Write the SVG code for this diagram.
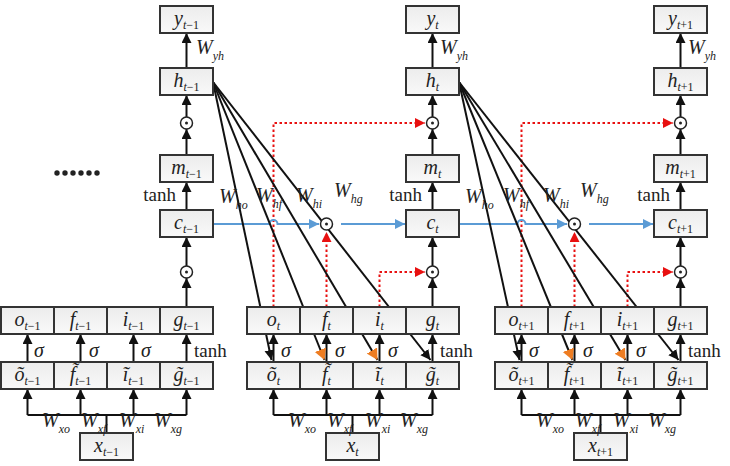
<svg xmlns="http://www.w3.org/2000/svg" width="730" height="466" viewBox="0 0 730 466">
<defs>
<linearGradient id="g" x1="0" y1="0" x2="0" y2="1"><stop offset="0" stop-color="#ececec"/><stop offset="1" stop-color="#f9f9f9"/></linearGradient>
<marker id="ah" markerUnits="userSpaceOnUse" markerWidth="11" markerHeight="11" refX="10" refY="5" orient="auto"><path d="M0,0 L10,5 L0,10 z" fill="#111"/></marker>
<marker id="ao" markerUnits="userSpaceOnUse" markerWidth="13" markerHeight="13" refX="11" refY="6" orient="auto"><path d="M0,0 L11,6 L0,12 z" fill="#ee7d22"/></marker>
<marker id="arr" markerUnits="userSpaceOnUse" markerWidth="11" markerHeight="11" refX="10" refY="5" orient="auto"><path d="M0,0 L10,5 L0,10 z" fill="#e81010"/></marker>
<marker id="abl" markerUnits="userSpaceOnUse" markerWidth="11" markerHeight="11" refX="10" refY="5" orient="auto"><path d="M0,0 L10,5 L0,10 z" fill="#5b9bd5"/></marker>
</defs>
<style>
.box{fill:url(#g);stroke:#333;stroke-width:2}
.m{font-family:"Liberation Serif",serif;font-style:italic;font-size:20px;fill:#222}
.s{font-size:12px}
.n{font-style:normal}
.up{font-family:"Liberation Serif",serif;font-size:19px;fill:#222}
.ln{stroke:#111;stroke-width:2;fill:none}
.a{marker-end:url(#ah)}
.ao{marker-end:url(#ao)}
.red{stroke:#e81010;stroke-width:2;stroke-dasharray:2.5 2.5;fill:none;marker-end:url(#arr)}
.blue{stroke:#5b9bd5;stroke-width:2;fill:none;marker-end:url(#abl)}
.od{fill:#fff;stroke:#222;stroke-width:1.5}
.dot{fill:#222}
</style>
<rect width="730" height="466" fill="#fff"/>

<g id="connectors">
<path class="ln a" d="M186.5,68 V33"/>
<path class="ln a" d="M186.5,117 V95"/>
<path class="ln a" d="M186.5,155 V129"/>
<path class="ln a" d="M186.5,210 V182"/>
<path class="ln a" d="M186.5,266 V237"/>
<path class="ln a" d="M186.5,307 V278"/>
<path class="ln a" d="M27.5,362 V334"/><path class="ln a" d="M80.5,362 V334"/><path class="ln a" d="M133.5,362 V334"/><path class="ln a" d="M186.5,362 V334"/>
<path class="ln a" d="M27.5,415 V389"/><path class="ln a" d="M80.5,415 V389"/><path class="ln a" d="M133.5,415 V389"/><path class="ln a" d="M186.5,415 V389"/>
<path class="ln" d="M27.5,415 H186.5 M106.5,433 V415"/>
<path class="ln a" d="M432.5,68 V33"/>
<path class="ln a" d="M432.5,117 V95"/>
<path class="ln a" d="M432.5,155 V129"/>
<path class="ln a" d="M432.5,210 V182"/>
<path class="ln a" d="M432.5,266 V237"/>
<path class="ln a" d="M432.5,307 V278"/>
<path class="ln a" d="M273.5,362 V334"/><path class="ln a" d="M326.5,362 V334"/><path class="ln a" d="M379.5,362 V334"/><path class="ln a" d="M432.5,362 V334"/>
<path class="ln a" d="M273.5,415 V389"/><path class="ln a" d="M326.5,415 V389"/><path class="ln a" d="M379.5,415 V389"/><path class="ln a" d="M432.5,415 V389"/>
<path class="ln" d="M273.5,415 H432.5 M352.5,433 V415"/>
<path class="ln a" d="M680.5,68 V33"/>
<path class="ln a" d="M680.5,117 V95"/>
<path class="ln a" d="M680.5,155 V129"/>
<path class="ln a" d="M680.5,210 V182"/>
<path class="ln a" d="M680.5,266 V237"/>
<path class="ln a" d="M680.5,307 V278"/>
<path class="ln a" d="M521.5,362 V334"/><path class="ln a" d="M574.5,362 V334"/><path class="ln a" d="M627.5,362 V334"/><path class="ln a" d="M680.5,362 V334"/>
<path class="ln a" d="M521.5,415 V389"/><path class="ln a" d="M574.5,415 V389"/><path class="ln a" d="M627.5,415 V389"/><path class="ln a" d="M680.5,415 V389"/>
<path class="ln" d="M521.5,415 H680.5 M600.5,433 V415"/>
<path class="red" d="M273.5,307 V123 H425"/>
<path class="red" d="M326.5,307 V232"/>
<path class="red" d="M379.5,307 V272 H425"/>
<path class="red" d="M521.5,307 V123 H673"/>
<path class="red" d="M574.5,307 V232"/>
<path class="red" d="M627.5,307 V272 H673"/>
<path class="blue" d="M213,224 H269.5 a4,4 0 0 1 8,0 H319"/>
<path class="blue" d="M341,224 H405"/>
<path class="blue" d="M459,224 H517.5 a4,4 0 0 1 8,0 H567"/>
<path class="blue" d="M589,224 H653"/>
<path class="ln a" d="M213,82 L271.5,360"/>
<path class="ln ao" d="M213,82 L324.5,360"/>
<path class="ln ao" d="M213,82 L377.5,360"/>
<path class="ln a" d="M213,82 L430.5,360"/>
<path class="ln a" d="M459,82 L519.5,360"/>
<path class="ln ao" d="M459,82 L572.5,360"/>
<path class="ln ao" d="M459,82 L625.5,360"/>
<path class="ln a" d="M459,82 L678.5,360"/>
</g>

<g id="y_tm1"><rect class="box" x="160" y="6" width="53" height="27"/><text class="m" x="186.5" y="25" text-anchor="middle">y<tspan class="s" dy="4">t</tspan><tspan class="s n">−1</tspan></text></g>
<g id="h_tm1"><rect class="box" x="160" y="68" width="53" height="27"/><text class="m" x="186.5" y="87" text-anchor="middle">h<tspan class="s" dy="4">t</tspan><tspan class="s n">−1</tspan></text></g>
<g id="odh_tm1"><circle class="od" cx="186.5" cy="123" r="6"/><circle class="dot" cx="186.5" cy="123" r="1.5"/></g>
<g id="m_tm1"><rect class="box" x="160" y="155" width="53" height="27"/><text class="m" x="186.5" y="174" text-anchor="middle">m<tspan class="s" dy="4">t</tspan><tspan class="s n">−1</tspan></text></g>
<g id="c_tm1"><rect class="box" x="160" y="210" width="53" height="27"/><text class="m" x="186.5" y="229" text-anchor="middle">c<tspan class="s" dy="4">t</tspan><tspan class="s n">−1</tspan></text></g>
<g id="odc_tm1"><circle class="od" cx="186.5" cy="272" r="6"/><circle class="dot" cx="186.5" cy="272" r="1.5"/></g>
<g id="o_tm1"><rect class="box" x="1" y="307" width="53" height="27"/><text class="m" x="27.5" y="326" text-anchor="middle">o<tspan class="s" dy="4">t</tspan><tspan class="s n">−1</tspan></text></g>
<g id="f_tm1"><rect class="box" x="54" y="307" width="53" height="27"/><text class="m" x="80.5" y="326" text-anchor="middle">f<tspan class="s" dy="4">t</tspan><tspan class="s n">−1</tspan></text></g>
<g id="i_tm1"><rect class="box" x="107" y="307" width="53" height="27"/><text class="m" x="133.5" y="326" text-anchor="middle">i<tspan class="s" dy="4">t</tspan><tspan class="s n">−1</tspan></text></g>
<g id="g_tm1"><rect class="box" x="160" y="307" width="53" height="27"/><text class="m" x="186.5" y="326" text-anchor="middle">g<tspan class="s" dy="4">t</tspan><tspan class="s n">−1</tspan></text></g>
<g id="ot_tm1"><rect class="box" x="1" y="362" width="53" height="27"/><text class="m" x="27.5" y="381" text-anchor="middle">õ<tspan class="s" dy="4">t</tspan><tspan class="s n">−1</tspan></text></g>
<g id="ft_tm1"><rect class="box" x="54" y="362" width="53" height="27"/><text class="m" x="80.5" y="381" text-anchor="middle">f̃<tspan class="s" dy="4">t</tspan><tspan class="s n">−1</tspan></text></g>
<g id="it_tm1"><rect class="box" x="107" y="362" width="53" height="27"/><text class="m" x="133.5" y="381" text-anchor="middle">ĩ<tspan class="s" dy="4">t</tspan><tspan class="s n">−1</tspan></text></g>
<g id="gt_tm1"><rect class="box" x="160" y="362" width="53" height="27"/><text class="m" x="186.5" y="381" text-anchor="middle">g̃<tspan class="s" dy="4">t</tspan><tspan class="s n">−1</tspan></text></g>
<g id="x_tm1"><rect class="box" x="80" y="433" width="53" height="27"/><text class="m" x="106.5" y="452" text-anchor="middle">x<tspan class="s" dy="4">t</tspan><tspan class="s n">−1</tspan></text></g>

<g id="y_t"><rect class="box" x="406" y="6" width="53" height="27"/><text class="m" x="432.5" y="25" text-anchor="middle">y<tspan class="s" dy="4">t</tspan></text></g>
<g id="h_t"><rect class="box" x="406" y="68" width="53" height="27"/><text class="m" x="432.5" y="87" text-anchor="middle">h<tspan class="s" dy="4">t</tspan></text></g>
<g id="odh_t"><circle class="od" cx="432.5" cy="123" r="6"/><circle class="dot" cx="432.5" cy="123" r="1.5"/></g>
<g id="m_t"><rect class="box" x="406" y="155" width="53" height="27"/><text class="m" x="432.5" y="174" text-anchor="middle">m<tspan class="s" dy="4">t</tspan></text></g>
<g id="c_t"><rect class="box" x="406" y="210" width="53" height="27"/><text class="m" x="432.5" y="229" text-anchor="middle">c<tspan class="s" dy="4">t</tspan></text></g>
<g id="odf_t"><circle class="od" cx="326.5" cy="224" r="6"/><circle class="dot" cx="326.5" cy="224" r="1.5"/></g>
<g id="odc_t"><circle class="od" cx="432.5" cy="272" r="6"/><circle class="dot" cx="432.5" cy="272" r="1.5"/></g>
<g id="o_t"><rect class="box" x="247" y="307" width="53" height="27"/><text class="m" x="273.5" y="326" text-anchor="middle">o<tspan class="s" dy="4">t</tspan></text></g>
<g id="f_t"><rect class="box" x="300" y="307" width="53" height="27"/><text class="m" x="326.5" y="326" text-anchor="middle">f<tspan class="s" dy="4">t</tspan></text></g>
<g id="i_t"><rect class="box" x="353" y="307" width="53" height="27"/><text class="m" x="379.5" y="326" text-anchor="middle">i<tspan class="s" dy="4">t</tspan></text></g>
<g id="g_t"><rect class="box" x="406" y="307" width="53" height="27"/><text class="m" x="432.5" y="326" text-anchor="middle">g<tspan class="s" dy="4">t</tspan></text></g>
<g id="ot_t"><rect class="box" x="247" y="362" width="53" height="27"/><text class="m" x="273.5" y="381" text-anchor="middle">õ<tspan class="s" dy="4">t</tspan></text></g>
<g id="ft_t"><rect class="box" x="300" y="362" width="53" height="27"/><text class="m" x="326.5" y="381" text-anchor="middle">f̃<tspan class="s" dy="4">t</tspan></text></g>
<g id="it_t"><rect class="box" x="353" y="362" width="53" height="27"/><text class="m" x="379.5" y="381" text-anchor="middle">ĩ<tspan class="s" dy="4">t</tspan></text></g>
<g id="gt_t"><rect class="box" x="406" y="362" width="53" height="27"/><text class="m" x="432.5" y="381" text-anchor="middle">g̃<tspan class="s" dy="4">t</tspan></text></g>
<g id="x_t"><rect class="box" x="326" y="433" width="53" height="27"/><text class="m" x="352.5" y="452" text-anchor="middle">x<tspan class="s" dy="4">t</tspan></text></g>

<g id="y_tp1"><rect class="box" x="654" y="6" width="53" height="27"/><text class="m" x="680.5" y="25" text-anchor="middle">y<tspan class="s" dy="4">t</tspan><tspan class="s n">+1</tspan></text></g>
<g id="h_tp1"><rect class="box" x="654" y="68" width="53" height="27"/><text class="m" x="680.5" y="87" text-anchor="middle">h<tspan class="s" dy="4">t</tspan><tspan class="s n">+1</tspan></text></g>
<g id="odh_tp1"><circle class="od" cx="680.5" cy="123" r="6"/><circle class="dot" cx="680.5" cy="123" r="1.5"/></g>
<g id="m_tp1"><rect class="box" x="654" y="155" width="53" height="27"/><text class="m" x="680.5" y="174" text-anchor="middle">m<tspan class="s" dy="4">t</tspan><tspan class="s n">+1</tspan></text></g>
<g id="c_tp1"><rect class="box" x="654" y="210" width="53" height="27"/><text class="m" x="680.5" y="229" text-anchor="middle">c<tspan class="s" dy="4">t</tspan><tspan class="s n">+1</tspan></text></g>
<g id="odf_tp1"><circle class="od" cx="574.5" cy="224" r="6"/><circle class="dot" cx="574.5" cy="224" r="1.5"/></g>
<g id="odc_tp1"><circle class="od" cx="680.5" cy="272" r="6"/><circle class="dot" cx="680.5" cy="272" r="1.5"/></g>
<g id="o_tp1"><rect class="box" x="495" y="307" width="53" height="27"/><text class="m" x="521.5" y="326" text-anchor="middle">o<tspan class="s" dy="4">t</tspan><tspan class="s n">+1</tspan></text></g>
<g id="f_tp1"><rect class="box" x="548" y="307" width="53" height="27"/><text class="m" x="574.5" y="326" text-anchor="middle">f<tspan class="s" dy="4">t</tspan><tspan class="s n">+1</tspan></text></g>
<g id="i_tp1"><rect class="box" x="601" y="307" width="53" height="27"/><text class="m" x="627.5" y="326" text-anchor="middle">i<tspan class="s" dy="4">t</tspan><tspan class="s n">+1</tspan></text></g>
<g id="g_tp1"><rect class="box" x="654" y="307" width="53" height="27"/><text class="m" x="680.5" y="326" text-anchor="middle">g<tspan class="s" dy="4">t</tspan><tspan class="s n">+1</tspan></text></g>
<g id="ot_tp1"><rect class="box" x="495" y="362" width="53" height="27"/><text class="m" x="521.5" y="381" text-anchor="middle">õ<tspan class="s" dy="4">t</tspan><tspan class="s n">+1</tspan></text></g>
<g id="ft_tp1"><rect class="box" x="548" y="362" width="53" height="27"/><text class="m" x="574.5" y="381" text-anchor="middle">f̃<tspan class="s" dy="4">t</tspan><tspan class="s n">+1</tspan></text></g>
<g id="it_tp1"><rect class="box" x="601" y="362" width="53" height="27"/><text class="m" x="627.5" y="381" text-anchor="middle">ĩ<tspan class="s" dy="4">t</tspan><tspan class="s n">+1</tspan></text></g>
<g id="gt_tp1"><rect class="box" x="654" y="362" width="53" height="27"/><text class="m" x="680.5" y="381" text-anchor="middle">g̃<tspan class="s" dy="4">t</tspan><tspan class="s n">+1</tspan></text></g>
<g id="x_tp1"><rect class="box" x="574" y="433" width="53" height="27"/><text class="m" x="600.5" y="452" text-anchor="middle">x<tspan class="s" dy="4">t</tspan><tspan class="s n">+1</tspan></text></g>

<g id="labels">
<g id="ellipsis" class="dot"><circle cx="57" cy="173" r="2.7"/><circle cx="65" cy="173" r="2.7"/><circle cx="73" cy="173" r="2.7"/><circle cx="81" cy="173" r="2.7"/><circle cx="89" cy="173" r="2.7"/><circle cx="97" cy="173" r="2.7"/></g>
<text class="m" x="196" y="54">W<tspan class="s" dy="6">yh</tspan></text>
<text class="m" x="440" y="54">W<tspan class="s" dy="6">yh</tspan></text>
<text class="m" x="688" y="54">W<tspan class="s" dy="6">yh</tspan></text>
<text class="up" x="176" y="201" text-anchor="end">tanh</text>
<text class="up" x="422" y="201" text-anchor="end">tanh</text>
<text class="up" x="670" y="201" text-anchor="end">tanh</text>
<text class="m" x="34" y="357">σ</text><text class="m" x="89" y="357">σ</text><text class="m" x="141" y="357">σ</text><text class="up" x="194" y="357">tanh</text>
<text class="m" x="281" y="357">σ</text><text class="m" x="335" y="357">σ</text><text class="m" x="388" y="357">σ</text><text class="up" x="440" y="357">tanh</text>
<text class="m" x="529" y="357">σ</text><text class="m" x="583" y="357">σ</text><text class="m" x="636" y="357">σ</text><text class="up" x="688" y="357">tanh</text>
<text class="m" x="42" y="427">W<tspan class="s" dy="6">xo</tspan></text>
<text class="m" x="81" y="427">W<tspan class="s" dy="6">xf</tspan></text>
<text class="m" x="119" y="427">W<tspan class="s" dy="6">xi</tspan></text>
<text class="m" x="154" y="427">W<tspan class="s" dy="6">xg</tspan></text>
<text class="m" x="288" y="427">W<tspan class="s" dy="6">xo</tspan></text>
<text class="m" x="327" y="427">W<tspan class="s" dy="6">xf</tspan></text>
<text class="m" x="365" y="427">W<tspan class="s" dy="6">xi</tspan></text>
<text class="m" x="400" y="427">W<tspan class="s" dy="6">xg</tspan></text>
<text class="m" x="536" y="427">W<tspan class="s" dy="6">xo</tspan></text>
<text class="m" x="575" y="427">W<tspan class="s" dy="6">xf</tspan></text>
<text class="m" x="613" y="427">W<tspan class="s" dy="6">xi</tspan></text>
<text class="m" x="648" y="427">W<tspan class="s" dy="6">xg</tspan></text>
<text class="m" x="219" y="203">W<tspan class="s" dy="6">ho</tspan></text>
<text class="m" x="256" y="202">W<tspan class="s" dy="6">hf</tspan></text>
<text class="m" x="296" y="202">W<tspan class="s" dy="6">hi</tspan></text>
<text class="m" x="334" y="197">W<tspan class="s" dy="6">hg</tspan></text>
<text class="m" x="465" y="203">W<tspan class="s" dy="6">ho</tspan></text>
<text class="m" x="503" y="202">W<tspan class="s" dy="6">hf</tspan></text>
<text class="m" x="543" y="202">W<tspan class="s" dy="6">hi</tspan></text>
<text class="m" x="580" y="197">W<tspan class="s" dy="6">hg</tspan></text>
</g>
</svg>
